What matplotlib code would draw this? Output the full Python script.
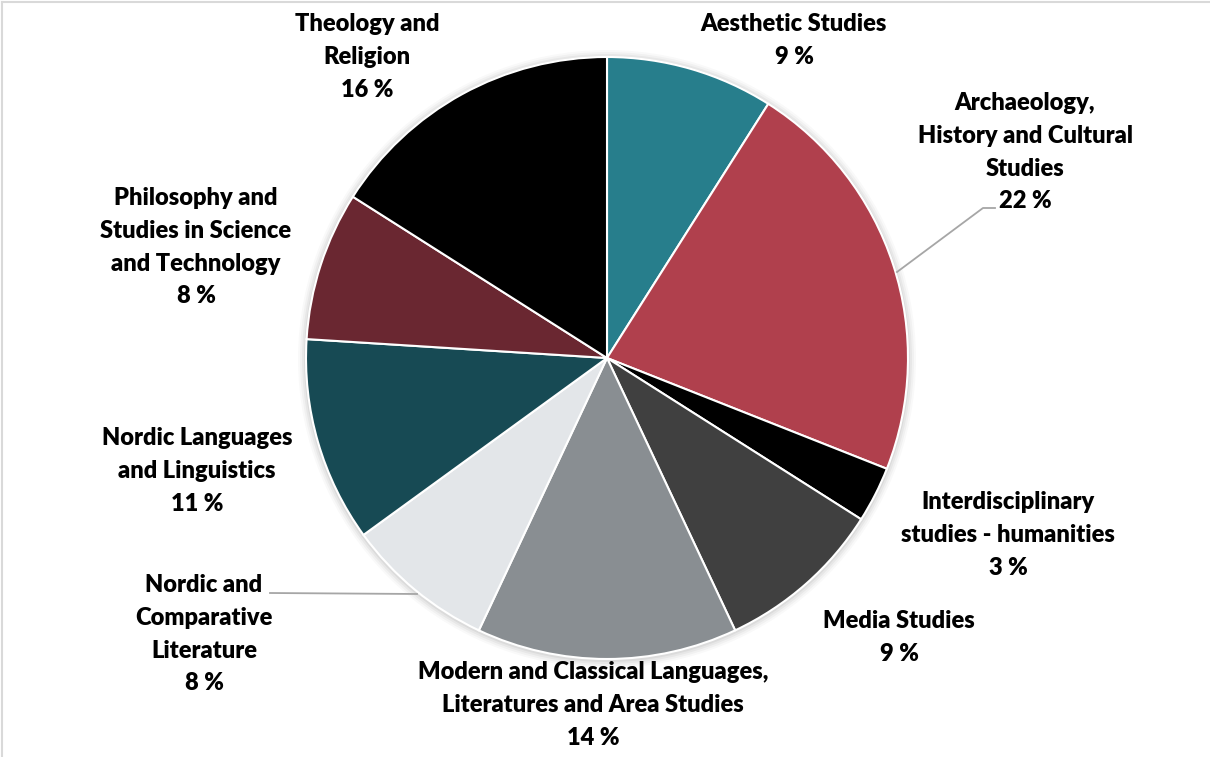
import matplotlib
matplotlib.use("Agg")
import matplotlib.pyplot as plt
from matplotlib.patches import Circle

plt.rcParams["font.family"] = ["Lato", "DejaVu Sans"]

# data (shares in %, clockwise from 12 o'clock)
categories = [
    "Aesthetic Studies",
    "Archaeology,\nHistory and Cultural\nStudies",
    "Interdisciplinary\nstudies - humanities",
    "Media Studies",
    "Modern and Classical Languages,\nLiteratures and Area Studies",
    "Nordic and\nComparative\nLiterature",
    "Nordic Languages\nand Linguistics",
    "Philosophy and\nStudies in Science\nand Technology",
    "Theology and\nReligion",
]
shares = [9, 22, 3, 9, 14, 8, 11, 8, 16]
colors = ["#277E8C", "#B0404D", "#000000", "#404040", "#898E92",
          "#E3E6E9", "#174A54", "#6A2731", "#000000"]

W, H = 1210, 757
CX, CY, R = 607, 358, 301

# label anchors (image pixels: centre x, centre y of first line)
label_pos = [(794, 24), (1025, 103), (1008, 502), (899, 621), (593, 672),
             (204, 585), (197, 438), (196, 198), (367, 24)]
LINE_H = 32.8


def fy(y):
    return H - y


fig = plt.figure(figsize=(W / 100, H / 100), dpi=100)
ax = fig.add_axes([0, 0, 1, 1])

# soft shadow round the pie
for i, a in enumerate([0.025, 0.03, 0.04, 0.05]):
    ax.add_patch(Circle((CX, fy(CY) - 1), R + 8 - 2 * i, color="#000000",
                        alpha=a, lw=0, zorder=0))

ax.pie(shares, colors=colors, startangle=90, counterclock=False,
       center=(CX, fy(CY)), radius=R,
       wedgeprops=dict(edgecolor="white", linewidth=1.5, zorder=2))

for name, val, (x, y) in zip(categories, shares, label_pos):
    lines = (name + "\n" + f"{val} %").split("\n")
    for k, line in enumerate(lines):
        ax.text(x, fy(y + k * LINE_H), line, ha="center", va="center",
                fontsize=17, fontweight="heavy", color="black")

# leader lines
ax.plot([897, 983, 995], [fy(272), fy(208), fy(208)], color="#A6A6A6", lw=1.3)
ax.plot([270, 417], [fy(593), fy(594)], color="#A6A6A6", lw=1.3)

# frame (top and left only)
ax.plot([2, W], [fy(2), fy(2)], color="#D9D9D9", lw=1.5)
ax.plot([2, 2], [fy(2), 0], color="#D9D9D9", lw=1.5)

ax.set_xlim(0, W)
ax.set_ylim(0, H)
ax.set_aspect("equal")
ax.axis("off")

fig.savefig("out.png", dpi=100, facecolor="white")
